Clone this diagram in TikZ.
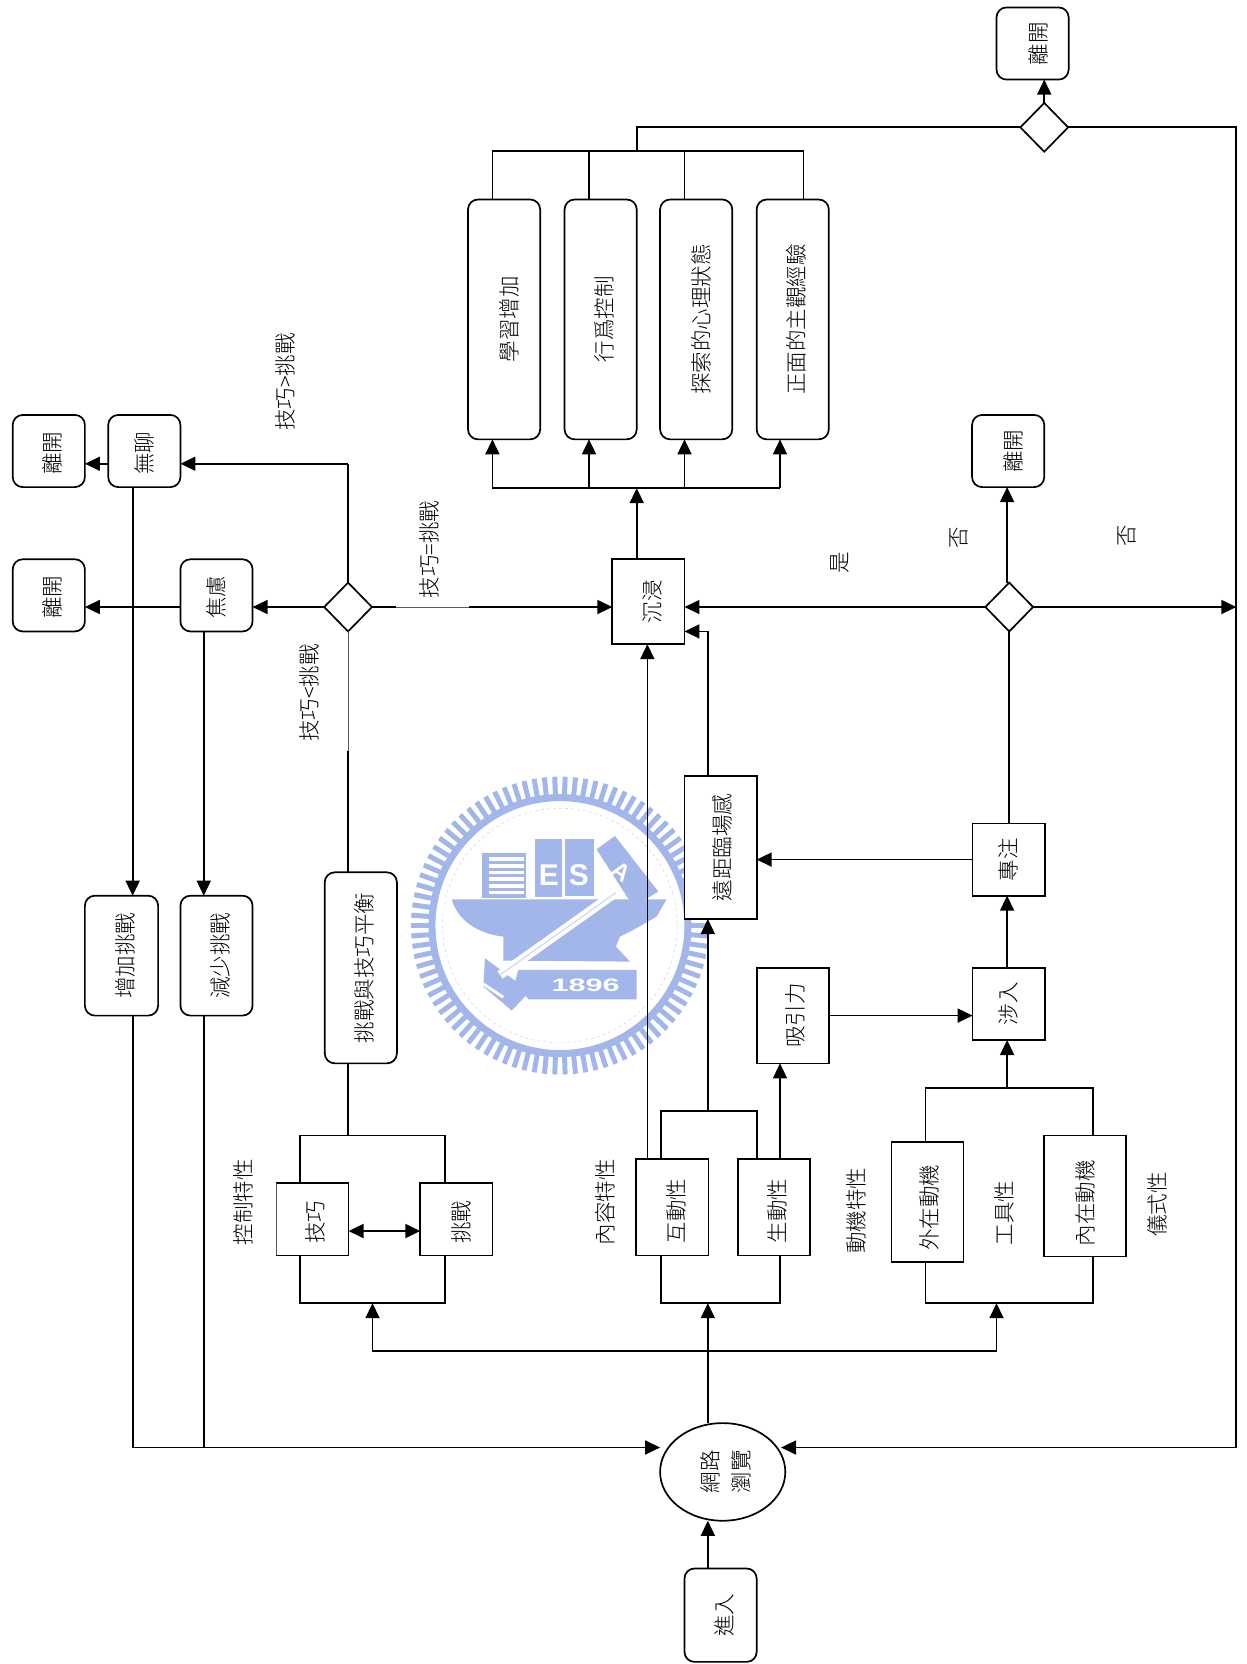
\documentclass[tikz,border=0pt]{standalone}
\usepackage{fontspec}
\usepackage{graphicx}
\usetikzlibrary{arrows.meta,shapes.geometric,calc}
\newfontfamily\cjk[UprightFont={* Light},BoldFont={* Bold}]{Noto Sans CJK TC}
\newfontfamily\sealf{Liberation Sans}
\newsavebox\rtb
\newcommand\rt[3]{\sbox\rtb{\rotatebox{90}{\cjk #3}}\raisebox{\dimexpr #2pt-.5\ht\rtb\relax}[0pt][0pt]{\makebox[0pt]{\hspace*{\dimexpr 2\dimexpr #1pt\relax\relax}\usebox\rtb}}}
\definecolor{seal}{HTML}{A3B6EA}
\tikzset{
  ln/.style={line width=1.7pt,black,line join=miter},
  thinln/.style={line width=.5pt,black!65},
  arr/.style={ln,-{Triangle[length=15pt,width=14pt]}},
  darr/.style={line width=2.2pt,{Triangle[length=15pt,width=14pt]}-{Triangle[length=15pt,width=14pt]}},
  sz/.style 2 args={minimum width=#1*1.0613pt,minimum height=#2*1.0613pt},
  base/.style={draw,fill=white,line width=1.7pt,inner sep=0pt,outer sep=0pt,font=\fontsize{21.5}{24}\selectfont},
  rbox/.style={base,rectangle,rounded corners=10pt},
  sbox/.style={base,rectangle},
  dec/.style={base,diamond,aspect=1,sz={45}{46}},
  lab/.style={inner sep=0pt,outer sep=0pt,font=\fontsize{21.5}{24}\selectfont}
}
\begin{document}
\begin{tikzpicture}[x=1.0613pt,y=-1.0613pt]
\useasboundingbox (0,0) rectangle (1175,1568);
\fill[white] (0,0) rectangle (1175,1568);
% ---- seal (watermark) ----
\begin{scope}[x=.33333pt,y=-.33333pt,shift={(1200,2280)}]
  \foreach \a in {0,4,...,356}{
    \draw[seal,line width=5pt] ({480+385*cos(\a)},{497+385*sin(\a)}) -- ({480+447*cos(\a)},{497+447*sin(\a)});
  }
  \draw[seal,line width=7pt] (480,497) circle (384);
  \draw[seal!50,line width=.6pt,dashed] (480,497) circle (352);
  % hull
  \fill[seal] (155,418) -- (800,418) -- (770,470) -- (700,510) -- (660,530) -- (648,560) -- (690,605) -- (310,602) -- (310,530) .. controls (220,520) and (170,470) .. (155,418) -- cycle;
  % books
  \fill[seal] (245,280) rectangle (378,415);
  \foreach \yy in {292,312,332,352,372,392}{\fill[white] (268,\yy) rectangle (372,\yy+11);}
  \fill[seal] (405,238) rectangle (485,412);
  \fill[seal] (495,238) rectangle (582,408);
  \fill[seal] (590,268) -- (645,228) -- (775,395) -- (700,440) -- cycle;
  \foreach \yy in {290,310,...,410}{\fill[white] (398,\yy) rectangle (406,\yy+7);}
  \node[white,inner sep=0pt,font=\sealf\bfseries\fontsize{30}{30}\selectfont] (sE) at (447,347) {E};
  \node[white,inner sep=0pt,font=\sealf\bfseries\fontsize{30}{30}\selectfont] (sS) at (537,345) {S};
  \node[white,inner sep=0pt,rotate=-35,font=\sealf\bfseries\fontsize{24}{24}\selectfont] (sA) at (665,335) {A};
  % hammer
  \fill[seal] (255,595) -- (345,662) -- (380,705) -- (335,752) -- (312,732) -- (250,680) -- cycle;
  \draw[white,line width=9pt] (648,398) -- (300,645);
  \draw[seal!60,line width=1pt] (648,398) -- (300,645);
  \draw[white,line width=3pt] (250,672) -- (310,712);
  % base
  \fill[seal] (355,630) -- (710,630) -- (710,718) -- (385,718) -- (345,665) -- cycle;
  \node[white,inner sep=0pt,font=\sealf\bfseries\fontsize{18}{18}\selectfont] (s96) at (557,675) {\scalebox{1.7}[1]{1896}};
\end{scope}
% ---- guide coordinates ----
\coordinate (xL1) at (464,0); \coordinate (xL2) at (555,0); \coordinate (xL3) at (645,0);
\coordinate (xL4) at (735,0); \coordinate (xT4) at (757,0); \coordinate (xTop) at (600,0);
\coordinate (xR) at (1165,0); \coordinate (xMid) at (667,0); \coordinate (xDl) at (328,0);
\coordinate (xIm) at (610,0); \coordinate (xDr) at (951,0); \coordinate (xIn) at (949,0);
\coordinate (xBz) at (125,0); \coordinate (xAx) at (192,0);
\coordinate (xC1) at (283,0); \coordinate (xC2) at (419,0); \coordinate (xC3) at (351,0);
\coordinate (xN1) at (623,0); \coordinate (xN2) at (713,0); \coordinate (xN3) at (735,0);
\coordinate (xM1) at (872,0); \coordinate (xM2) at (1030,0); \coordinate (xM3) at (939,0);
\coordinate (yA) at (0,120); \coordinate (yB) at (0,142); \coordinate (yO) at (0,460);
\coordinate (yBo) at (0,437); \coordinate (yM) at (0,572); \coordinate (yIm) at (0,595);
\coordinate (yRe) at (0,1364); \coordinate (yBus) at (0,1273); \coordinate (yBr) at (0,1228);
\coordinate (yCt) at (0,1070); \coordinate (yNt) at (0,1047); \coordinate (yMt) at (0,1025);
\coordinate (yDbl) at (0,1160); \coordinate (yAt) at (0,957); \coordinate (yFo) at (0,810);
\coordinate (xWr) at (736,0);
% ---- nodes ----
\node[rbox,sz={68}{68}] (lvT) at (973,41) {\rt{6}{0}{離開}};
\node[dec] (dT) at (984,120) {};
\node[rbox,sz={68}{226}] (o1) at (475,301) {\rt{5}{0}{學習增加}};
\node[rbox,sz={68}{226}] (o2) at (566,301) {\rt{4}{0}{行爲控制}};
\node[rbox,sz={68}{226}] (o3) at (656,301) {\rt{5}{0}{探索的心理狀態}};
\node[rbox,sz={68}{226}] (o4) at (747,301) {\rt{4}{0}{正面的主觀經驗}};
\node[rbox,sz={68}{68}] (lvM) at (950,425) {\rt{5}{0}{離開}};
\node[rbox,sz={68}{68}] (lvB) at (46,425) {\rt{4}{-2}{離開}};
\node[rbox,sz={68}{68}] (bo) at (136,425) {\rt{0}{-2}{無聊}};
\node[rbox,sz={68}{68}] (lvA) at (46,561) {\rt{4}{-2}{離開}};
\node[rbox,sz={68}{68}] (an) at (204,561) {\rt{0}{-2}{焦慮}};
\node[dec] (dL) at (328,572) {};
\node[sbox,sz={68}{80}] (im) at (611,567) {\rt{4}{0}{沉浸}};
\node[dec] (dR) at (951,572) {};
\node[rbox,sz={69}{113}] (inc) at (114.5,900.5) {\rt{4}{0}{增加挑戰}};
\node[rbox,sz={68}{113}] (dec) at (204,900.5) {\rt{4}{0}{減少挑戰}};
\node[rbox,sz={68}{180}] (bal) at (340,912) {\rt{4}{0}{挑戰與技巧平衡}};
\node[sbox,sz={68}{135}] (tp) at (679,798.5) {\rt{2}{0}{遠距臨場感}};
\node[sbox,sz={68}{68}] (fo) at (950.5,810) {\rt{0}{0}{專注}};
\node[sbox,sz={68}{68}] (en) at (950.5,946) {\rt{0}{0}{涉入}};
\node[sbox,sz={68}{90}] (at) at (747,957) {\rt{3}{0}{吸引力}};
\node[base,draw=none,rectangle,sz={68}{68}] (sk) at (294.5,1149) {\rt{3}{-3}{技巧}};
\node[sbox,sz={68}{68}] (ch) at (430,1149) {\rt{5}{-3}{挑戰}};
\node[sbox,sz={68}{91}] (ia) at (633.5,1137.5) {\rt{4}{-4}{互動性}};
\node[sbox,sz={68}{91}] (vi) at (729.5,1137.5) {\rt{3}{-4}{生動性}};
\node[sbox,sz={68}{113}] (em) at (874,1132.5) {\rt{2}{-6}{外在動機}};
\node[sbox,sz={77}{114}] (nm) at (1022.5,1127) {\rt{0}{-7}{內在動機}};
\node[base,ellipse,sz={118}{92}] (web) at (681,1387) {\rt{-12}{0}{網路}\rt{19}{0}{瀏覽}};
\node[rbox,sz={68}{88}] (ent) at (679,1522) {\rt{4}{0}{進入}};
% labels
\node[lab] (lc) at (229,1133) {\rt{0}{0}{控制特性}};
\node[lab] (ln) at (570,1133) {\rt{0}{0}{內容特性}};
\node[lab] (lm) at (807,1141) {\rt{0}{0}{動機特性}};
\node[lab] (lt) at (946,1143) {\rt{0}{0}{工具性}};
\node[lab] (lr) at (1091,1135) {\rt{0}{0}{儀式性}};
\node[lab] (lg) at (269,360) {\rt{0}{0}{技巧>挑戰}};
\node[lab] (le) at (405,518) {\rt{0}{0}{技巧=挑戰}};
\node[lab] (ll) at (292,653) {\rt{0}{0}{技巧<挑戰}};
\node[lab] (yes) at (791,530) {\rt{0}{0}{是}};
\node[lab] (no1) at (904,507) {\rt{0}{0}{否}};
\node[lab] (no2) at (1062,505) {\rt{0}{0}{否}};
% skill box outline: left edge is faint
\draw[ln] (sk.north west) -- (sk.north east) -- (sk.south east) -- (sk.south west);
\draw[thinln] (sk.north west) -- (sk.south west);
% ---- connectors ----
\draw[arr] (dT.north) -- (lvT.south -| dT.north);
\draw[ln] (dT.west) -- (xTop |- dT.west) -- (xTop |- yB);
\draw[ln] (o1.north -| xL1) -- (xL1 |- yB) -- (xT4 |- yB) -- (o4.north -| xT4);
\draw[ln] (o2.north -| xL2) -- (xL2 |- yB);
\draw[ln] (o3.north -| xL3) -- (xL3 |- yB);
\draw[ln] (dT.east) -- (xR |- dT.east) -- (xR |- yRe);
\draw[arr] (xR |- yRe) -- (xWr |- yRe);
\draw[arr] (im.north -| xTop) -- (xTop |- yO);
\draw[ln] (xL1 |- yO) -- (xL4 |- yO);
\draw[arr] (xL1 |- yO) -- (o1.south -| xL1);
\draw[arr] (xL2 |- yO) -- (o2.south -| xL2);
\draw[arr] (xL3 |- yO) -- (o3.south -| xL3);
\draw[arr] (xL4 |- yO) -- (o4.south -| xL4);
\draw[arr] (dR.west) -- (im.east |- dR.west);
\draw[arr] (dR.north -| xIn) -- (lvM.south -| xIn);
\draw[arr] (dR.east) -- (xR |- dR.east);
\draw[ln] (fo.north -| xDr) -- (dR.south);
\draw[arr] (fo.west) -- (tp.east |- fo.west);
\draw[arr] (en.north -| xIn) -- (fo.south -| xIn);
\draw[arr] (at.east |- yAt) -- (en.west |- yAt);
\draw[ln] (tp.north -| xMid) -- (xMid |- yIm);
\draw[arr] (xMid |- yIm) -- (im.east |- yIm);
\draw[arr] (ia.north -| xIm) -- (im.south -| xIm);
\draw[ln] (ia.north -| xN1) -- (xN1 |- yNt) -- (xN2 |- yNt) -- (vi.north -| xN2);
\draw[arr] (xMid |- yNt) -- (tp.south -| xMid);
\draw[arr] (vi.north -| xN3) -- (at.south -| xN3);
\draw[ln] (ia.south -| xN1) -- (xN1 |- yBr) -- (xN3 |- yBr) -- (vi.south -| xN3);
\draw[ln] (em.north -| xM1) -- (xM1 |- yMt) -- (xM2 |- yMt) -- (nm.north -| xM2);
\draw[arr] (xIn |- yMt) -- (en.south -| xIn);
\draw[ln] (em.south -| xM1) -- (xM1 |- yBr) -- (xM2 |- yBr) -- (nm.south -| xM2);
\draw[ln] (sk.north -| xC1) -- (xC1 |- yCt) -- (xC2 |- yCt) -- (ch.north -| xC2);
\draw[ln] (sk.south -| xC1) -- (xC1 |- yBr) -- (xC2 |- yBr) -- (ch.south -| xC2);
\draw[ln] (xDl |- yCt) -- (bal.south -| xDl);
\draw[darr] (sk.east |- yDbl) -- (ch.west |- yDbl);
\draw[ln] (bal.north -| xDl) -- (xDl |- 0,708);
\draw[thinln] (xDl |- 0,708) -- (dL.south);
\draw[arr] (dL.west) -- (an.east |- dL.west);
\draw[ln] (dL.east) -- (373,572);
\draw[thinln] (373,572) -- (442,572);
\draw[arr] (442,572) -- (im.west |- dL.east);
\draw[ln] (dL.north) -- (xDl |- yBo);
\draw[arr] (xDl |- yBo) -- (bo.east |- yBo);
\draw[arr] (bo.west |- yBo) -- (lvB.east |- yBo);
\draw[arr] (an.west |- yM) -- (lvA.east |- yM);
\draw[arr] (bo.south -| xBz) -- (inc.north -| xBz);
\draw[arr] (an.south -| xAx) -- (dec.north -| xAx);
\draw[ln] (inc.south -| xBz) -- (xBz |- yRe);
\draw[ln] (dec.south -| xAx) -- (xAx |- yRe);
\draw[arr] (xBz |- yRe) -- (web.west |- yRe);
\draw[arr] (ent.north -| xMid) -- (web.south -| xMid);
\draw[arr] (web.north -| xMid) -- (xMid |- yBr);
\draw[ln] (xC3 |- yBus) -- (xM3 |- yBus);
\draw[arr] (xC3 |- yBus) -- (xC3 |- yBr);
\draw[arr] (xM3 |- yBus) -- (xM3 |- yBr);
\end{tikzpicture}
\end{document}
